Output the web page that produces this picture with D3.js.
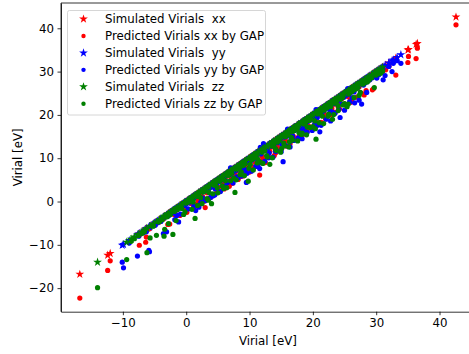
<!DOCTYPE html>
<html><head><meta charset="utf-8">
<script src="https://cdn.jsdelivr.net/npm/d3@7"></script>
<style>body{margin:0;background:#fff}svg{display:block}text{font-family:"DejaVu Sans",sans-serif;white-space:pre}</style>
</head><body><svg id="c" width="469" height="354"></svg>
<script>
// Simulated (x) and predicted (y) virials per component
const simXX  = [-16.8,-12.4,-12.0,-7.4,-6.4,-6.3,-5.8,-5.0,-4.3,-3.6,-2.9,-2.6,-2.2,-1.6,-0.8,-0.3,0.4,1.0,1.6,2.2,3.0,3.5,4.2,4.8,5.5,6.1,6.8,7.4,8.0,8.6,9.2,9.9,10.5,11.1,11.6,12.3,12.9,13.5,14.1,14.8,15.3,16.0,16.6,17.2,17.8,18.2,19.0,19.6,20.2,20.8,21.5,22.1,22.7,23.4,24.0,24.6,25.3,25.9,26.1,27.0,27.7,28.4,29.4,29.6,30.2,31.0,32.0,33.1,35.0,35.1,36.3,36.5,42.6,
  -1.9,-0.1,0.8,1.9,2.6,3.3,4.5,5.1,5.8,6.4,7.1,7.7,8.3,8.9,9.6,10.2,10.8,11.4,12.0,12.6,13.2,13.8,14.4,15.1,15.7,16.3,16.9,17.5,18.1,18.7,19.3,19.9,20.5,21.2,21.8,22.4,23.0,23.7,24.3,25.0,25.6,26.7,27.3,28.0,28.8,29.9,30.6,31.5,
  -1.0,0.1,1.2,2.0,2.9,3.9,4.4,5.3,6.0,6.6,7.3,8.2,9.0,9.4,10.0,10.7,11.3,11.9,12.5,13.1,13.9,14.6,15.0,15.8,16.4,17.0,17.7,18.5,19.1,19.8,20.6,21.3,22.0,22.9,23.5,24.2,25.1,26.0,26.9,28.1];
const predXX = [-22.3,-15.9,-13.7,-10.1,-9.4,-8.2,-6.3,-5.4,-4.8,-4.0,-5.3,-5.2,-2.6,-2.0,-1.3,-0.7,-0.1,0.4,-0.6,1.6,-1.4,2.8,3.4,2.0,4.8,5.3,3.5,6.7,7.1,5.8,8.4,9.0,8.0,10.3,6.1,9.6,12.2,12.6,11.2,14.0,13.4,15.2,14.1,16.5,16.9,15.0,18.2,18.8,17.6,20.0,20.6,19.4,21.9,22.5,21.8,23.8,24.4,23.3,23.4,26.1,25.0,25.6,25.8,26.1,29.4,30.1,31.2,29.2,32.1,33.5,33.0,35.4,40.8,
  -3.0,-1.8,-0.5,0.3,1.1,2.0,3.9,3.3,4.1,5.9,5.2,6.3,7.9,7.3,8.2,9.7,9.1,10.9,10.4,11.8,11.6,13.3,12.7,14.6,14.0,15.8,15.1,17.1,16.4,18.2,17.5,19.5,18.8,20.8,20.3,21.7,21.5,23.1,22.7,24.5,24.2,26.0,26.5,27.3,28.0,28.9,29.8,30.4,
  -3.2,-2.5,-1.3,-0.8,0.1,1.0,1.6,2.4,2.9,4.1,4.2,5.1,5.9,7.0,6.8,7.9,8.2,9.4,9.0,10.2,10.6,11.9,12.1,12.8,13.4,14.5,14.8,15.6,16.3,16.9,17.9,18.3,19.1,20.0,20.6,21.4,22.5,22.9,24.1,24.6];
const simYY  = [-10.1,-9.9,-7.7,-7.5,-5.9,-5.8,-5.2,-4.5,-3.6,-3.1,-2.8,-2.3,-1.2,-0.6,0.0,0.7,1.5,2.3,2.9,3.6,4.2,4.9,5.5,6.2,6.9,7.5,8.2,9.3,9.5,10.1,10.8,11.4,12.2,12.8,13.5,14.1,14.8,15.3,15.9,16.5,17.1,17.8,18.4,19.0,19.7,20.3,21.1,21.7,22.4,23.0,23.7,24.3,24.9,25.6,26.2,26.9,27.3,27.7,28.3,29.0,29.8,30.4,31.1,31.4,32.0,32.5,32.7,33.3,33.9,
  -9.0,-6.8,-6.3,-4.9,-4.0,-2.0,-1.5,-0.2,0.4,1.1,1.9,2.6,3.3,3.9,4.6,5.2,5.9,6.5,7.2,7.9,8.6,8.9,9.8,10.4,11.1,11.8,12.5,13.1,13.8,14.4,15.1,15.6,16.2,16.8,17.4,18.1,18.7,19.3,20.0,20.7,21.4,22.0,22.7,23.4,24.0,24.6,25.2,25.9,26.5,27.1,28.0,28.7,29.4,30.1,30.8,
  -1.8,-0.9,0.3,1.2,2.0,3.0,3.8,4.5,5.4,6.0,6.7,7.4,8.0,8.8,9.6,10.3,11.0,11.6,12.4,13.0,13.7,14.3,15.0,15.7,16.4,17.0,17.7,18.3,19.1,19.9,20.6,21.3,22.1,22.8,23.5,24.1,25.0,25.8,26.6,28.5,7.0,11.7,16.0,20.5,25.5];
const predYY = [-14.0,-15.3,-12.6,-8.0,-11.3,-11.6,-5.6,-4.9,-7.4,-7.0,-3.3,-2.7,-4.7,-1.0,-0.5,0.2,-2.1,-0.2,2.4,3.0,1.3,4.3,4.9,3.6,6.2,6.9,5.5,7.4,4.4,9.4,10.1,8.7,13.4,12.0,12.8,11.6,14.1,9.2,15.1,14.0,16.4,17.0,16.2,18.3,18.9,17.9,16.1,20.9,21.6,20.7,22.9,19.4,24.1,24.8,24.0,26.1,23.4,22.5,27.4,28.1,29.0,29.3,28.1,29.1,31.2,30.0,31.9,32.5,31.9,
  -9.6,-7.2,-7.0,-5.5,-4.6,-2.6,-3.2,-0.9,-0.3,0.5,1.2,0.8,2.7,3.3,2.9,4.6,5.2,4.4,6.5,7.2,7.6,6.4,9.0,9.6,9.9,11.0,11.9,11.2,13.0,13.6,13.2,14.9,15.3,15.1,16.8,17.3,17.0,18.6,19.2,19.4,20.6,21.4,20.9,22.6,23.3,22.5,24.5,25.2,25.3,26.4,26.9,27.9,28.6,28.5,30.0,
  -4.2,-2.9,-1.7,-1.0,-1.3,0.2,0.9,1.5,2.3,3.1,4.6,4.3,5.7,5.9,6.5,7.0,8.1,7.6,9.3,10.1,10.2,11.7,11.5,12.9,12.6,14.1,14.7,14.5,16.0,16.4,17.5,17.6,19.0,18.6,20.4,21.3,21.1,23.0,22.8,25.2,7.8,12.5,16.7,21.2,26.1];
const simZZ  = [-14.0,-9.4,-8.7,-8.2,-6.2,-5.7,-4.7,-4.2,-3.5,-3.4,-2.1,-1.9,-1.0,-0.4,0.2,0.8,1.4,2.0,2.7,3.3,4.0,4.6,5.3,5.9,6.6,7.2,7.7,8.4,9.0,9.8,10.4,11.0,11.7,12.4,13.2,13.8,14.4,15.1,15.7,16.3,16.9,17.5,18.2,18.8,19.4,20.0,20.5,21.2,21.8,22.5,23.1,23.7,24.4,25.0,25.4,26.1,26.8,27.5,28.2,28.9,29.7,30.3,31.0,
  -7.6,-7.0,-6.6,-5.2,-3.8,-3.0,-2.5,-1.4,-0.7,0.5,1.1,1.7,2.3,3.0,3.6,4.3,4.9,5.6,6.2,6.9,7.5,8.1,8.7,9.3,10.1,10.7,11.3,12.0,12.7,13.5,14.1,14.7,15.4,16.0,16.6,17.2,17.8,18.5,19.1,19.7,20.3,20.9,21.5,22.2,22.8,23.4,24.0,24.7,25.7,26.4,27.1,27.9,28.6,29.3,30.0,30.7,
  -2.8,-1.6,-0.2,0.9,1.8,2.5,3.5,4.2,5.0,5.7,6.4,7.0,7.9,8.5,9.2,9.9,10.6,11.2,12.1,12.8,13.6,14.2,14.9,15.5,16.2,16.8,17.6,18.3,19.0,19.6,20.4,21.0,21.7,22.4,23.3,24.0,24.8,25.6,26.5,27.3];
const predZZ = [-19.9,-13.4,-9.2,-8.6,-11.8,-8.4,-7.8,-4.6,-8.0,-6.4,-7.6,-2.3,-1.4,-3.0,-0.2,0.4,-3.9,1.5,2.2,0.7,-0.5,4.1,4.7,3.0,6.0,6.6,2.1,7.7,8.3,4.7,9.7,10.3,9.1,11.7,8.6,13.1,13.7,12.3,15.0,13.8,16.2,16.8,15.5,18.1,18.7,17.3,14.4,20.5,21.1,20.2,19.0,23.0,23.6,22.6,21.9,25.3,26.0,25.2,27.4,28.1,26.3,29.5,30.1,
  -7.9,-7.4,-7.0,-5.7,-4.2,-3.5,-3.0,-1.9,-1.6,0.0,-0.1,1.2,0.9,2.5,2.1,3.8,3.2,5.1,4.8,6.3,5.4,7.5,6.8,8.7,8.6,10.1,9.8,11.4,10.6,12.8,12.2,14.1,13.5,15.4,14.8,16.6,15.9,17.9,17.2,19.1,18.6,20.3,19.7,21.6,21.9,22.7,22.1,24.0,24.8,25.7,26.3,27.1,27.6,28.6,29.2,29.6,
  -5.1,-4.4,-2.4,-1.8,-0.9,-0.5,0.3,1.8,2.0,3.6,3.2,4.8,5.0,6.2,6.0,7.7,7.3,8.9,8.8,10.3,10.1,11.8,11.4,12.9,12.6,14.2,14.0,15.8,15.4,17.1,16.8,18.2,18.0,19.7,20.1,21.0,22.3,22.5,24.0,24.5];
const xTicks = [-10,0,10,20,30,40];
const yTicks = [-20,-10,0,10,20,30,40];
const legendLabels = ["Simulated Virials  xx","Predicted Virials xx by GAP","Simulated Virials  yy","Predicted Virials yy by GAP","Simulated Virials  zz","Predicted Virials zz by GAP"];

const series = [
  {sim: simXX, pred: predXX, color: "#ff0000"},
  {sim: simYY, pred: predYY, color: "#0000ff"},
  {sim: simZZ, pred: predZZ, color: "#008000"}
];

const FS = 11.8;
const svg = d3.select("#c");
const L = 61, R = 474.8, T = 3, B = 311.7;
const x = d3.scaleLinear().domain([-19.77, 45.57]).range([L, R]);
const y = d3.scaleLinear().domain([-25.44, 45.84]).range([B, T]);
const star = d3.symbol().type(d3.symbolStar).size(24);

const g = svg.append("g");
series.forEach(s => {
  g.append("g").selectAll("path").data(s.sim).join("path")
    .attr("transform", d => `translate(${x(d)},${y(d)})`)
    .attr("d", star).attr("fill", s.color);
  g.append("g").selectAll("circle").data(s.sim.map((v,i)=>[v, s.pred[i]])).join("circle")
    .attr("cx", d => x(d[0])).attr("cy", d => y(d[1])).attr("r", 2.6).attr("fill", s.color);
});

// axes
const xa = svg.append("g").attr("transform", `translate(0,${B})`)
  .call(d3.axisBottom(x).tickValues(xTicks).tickSize(3.5).tickPadding(3.5).tickSizeOuter(0));
const ya = svg.append("g").attr("transform", `translate(${L},0)`)
  .call(d3.axisLeft(y).tickValues(yTicks).tickSize(3.5).tickPadding(3.5).tickSizeOuter(0));
[xa, ya].forEach(a => {
  a.selectAll("text").attr("font-size", FS).attr("fill", "#000").attr("font-family", "DejaVu Sans");
  a.selectAll("line").attr("stroke", "#000").attr("stroke-width", 0.8);
  a.select(".domain").attr("stroke", "#000").attr("stroke-width", 0.8);
});
svg.append("line").attr("x1", L).attr("x2", R).attr("y1", T).attr("y2", T).attr("stroke", "#000").attr("stroke-width", 0.8);
svg.append("line").attr("x1", L).attr("x2", L).attr("y1", T).attr("y2", B).attr("stroke", "#000").attr("stroke-width", 0.8);

svg.append("text").attr("x", (L+R)/2).attr("y", 344.5).attr("text-anchor", "middle").attr("font-size", FS).text("Virial [eV]");
svg.append("text").attr("transform", `translate(22,${(T+B)/2}) rotate(-90)`).attr("text-anchor", "middle").attr("font-size", FS).text("Virial [eV]");

// legend
const lg = svg.append("g");
lg.append("rect").attr("x", 67.5).attr("y", 10.5).attr("width", 198).attr("height", 104.5).attr("rx", 2)
  .attr("fill", "#fff").attr("fill-opacity", 0.8).attr("stroke", "#cccccc").attr("stroke-width", 0.8);
legendLabels.forEach((t, i) => {
  const yy = 19 + i * 16.95;
  const col = series[Math.floor(i/2)].color;
  if (i % 2 === 0) {
    lg.append("path").attr("transform", `translate(83.5,${yy})`).attr("d", star).attr("fill", col);
  } else {
    lg.append("circle").attr("cx", 83.5).attr("cy", yy).attr("r", 2.2).attr("fill", col);
  }
  lg.append("text").attr("x", 105).attr("y", yy + 4.2).attr("font-size", FS).attr("xml:space", "preserve").text(t);
});
</script></body></html>
